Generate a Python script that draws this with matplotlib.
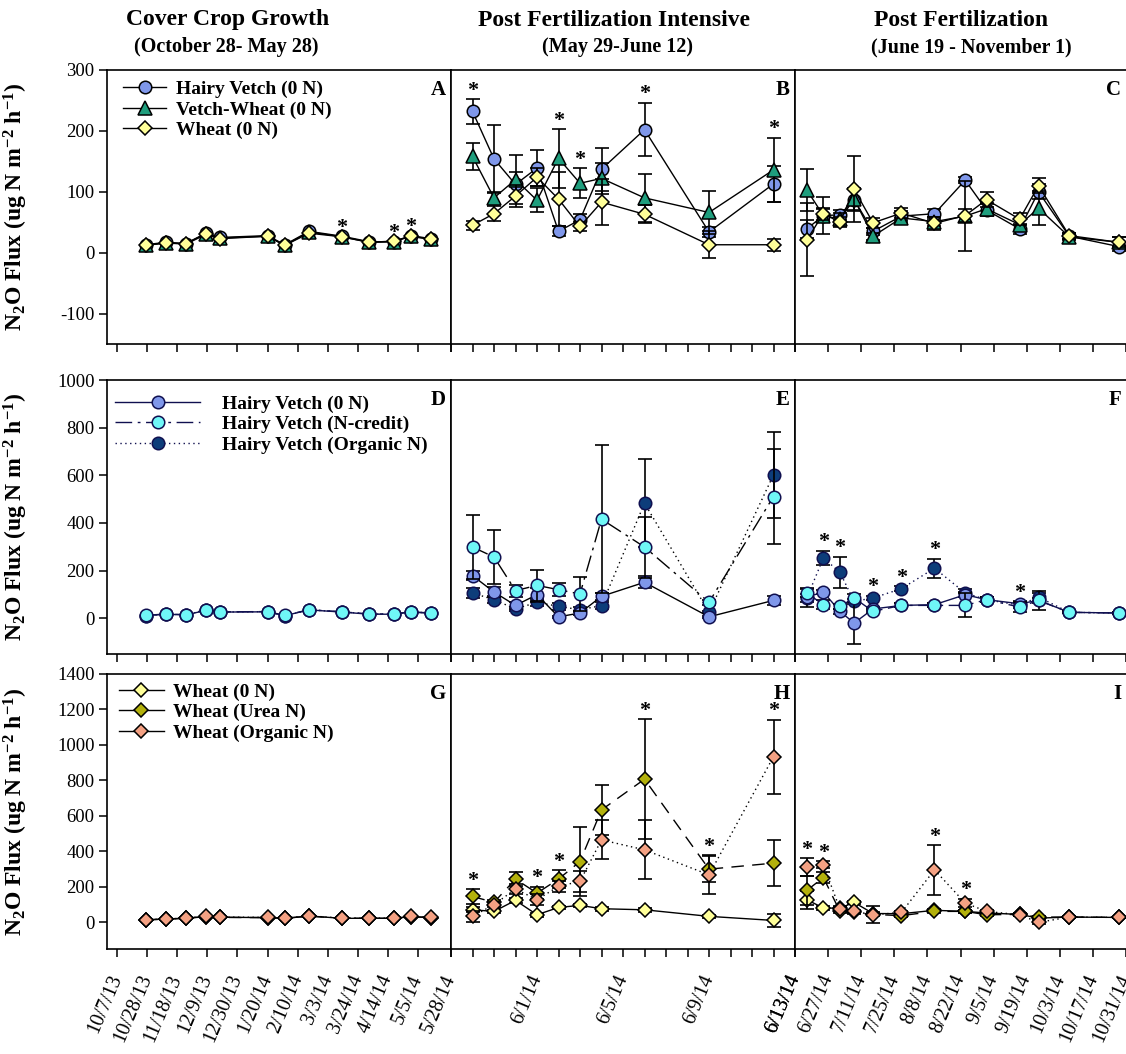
import numpy as np
import pandas as pd
import matplotlib
matplotlib.use('Agg')
import matplotlib.pyplot as plt
import matplotlib.dates as mdates
from matplotlib.lines import Line2D

plt.rcParams['font.family'] = 'Liberation Serif'
plt.rcParams['axes.unicode_minus'] = False
plt.rcParams['mathtext.fontset'] = 'custom'
plt.rcParams['mathtext.rm'] = 'Liberation Serif:bold'
plt.rcParams['mathtext.it'] = 'Liberation Serif:bold'
plt.rcParams['mathtext.bf'] = 'Liberation Serif:bold'

# ---- sampling dates ----
cc_dates = ['2013-10-27', '2013-11-10', '2013-11-24', '2013-12-08', '2013-12-18', '2014-01-20',
            '2014-02-01', '2014-02-18', '2014-03-13', '2014-04-01', '2014-04-18', '2014-04-30', '2014-05-14']
pfi_dates = ['2014-05-29', '2014-05-30', '2014-05-31', '2014-06-01', '2014-06-02', '2014-06-03',
             '2014-06-04', '2014-06-06', '2014-06-09', '2014-06-12']
pf_dates = ['2014-06-18', '2014-06-25', '2014-07-02', '2014-07-08', '2014-07-16', '2014-07-28',
            '2014-08-11', '2014-08-24', '2014-09-02', '2014-09-16', '2014-09-24', '2014-10-07', '2014-10-28']

# ---- tick dates ----
cc_ticks = ['2013-10-07', '2013-10-28', '2013-11-18', '2013-12-09', '2013-12-30', '2014-01-20',
            '2014-02-10', '2014-03-03', '2014-03-24', '2014-04-14', '2014-05-05', '2014-05-28']
pfi_ticks = list(pd.date_range('2014-05-28', '2014-06-13').strftime('%Y-%m-%d'))
pfi_labeled = ['2014-06-01', '2014-06-05', '2014-06-09', '2014-06-13']
pf_ticks = list(pd.date_range('2014-06-13', '2014-10-31', freq='14D').strftime('%Y-%m-%d'))

# ---- row 1: hairy vetch / vetch-wheat / wheat (0 N) ----
hv_a = [13, 17, 15, 32, 25, 28, 13, 35, 27, 18, 18, 28, 23]
vw_a = [12, 16, 15, 31, 24, 27, 12, 34, 26, 17, 18, 27, 22]
wh_a = [12, 16, 14, 30, 23, 27, 12, 32, 26, 17, 19, 27, 22]
stars_a = [8, 10, 11]

hv_b = [232, 154, 112, 139, 35, 54, 137, 202, 34, 113]
hv_b_err = [20, 56, 20, 30, 8, 10, 35, 44, 8, 30]
vw_b = [158, 90, 120, 86, 155, 114, 122, 90, 66, 136]
vw_b_err = [22, 10, 40, 20, 48, 25, 25, 40, 35, 53]
wh_b = [45, 64, 93, 124, 88, 43, 83, 63, 13, 13]
wh_b_err = [7, 12, 18, 15, 45, 8, 38, 15, 22, 10]
stars_b = [0, 4, 5, 7, 9]

hv_c = [39, 61, 62, 87, 35, 60, 64, 119, 70, 39, 100, 27, 10]
hv_c_err = [15, 10, 8, 18, 6, 8, 8, 5, 10, 8, 12, 5, 8]
vw_c = [103, 61, 55, 88, 27, 57, 51, 60, 72, 46, 73, 26, 17]
vw_c_err = [35, 30, 10, 18, 6, 8, 8, 58, 10, 10, 28, 5, 8]
wh_c = [21, 64, 50, 104, 49, 65, 48, 61, 87, 55, 110, 28, 17]
wh_c_err = [60, 10, 8, 54, 8, 8, 10, 10, 12, 10, 12, 5, 8]

# ---- row 2: hairy vetch 0 N / N-credit / organic N ----
hv0_d = [11, 17, 14, 33, 26, 27, 11, 35, 26, 17, 17, 26, 21]
hvn_d = [12, 18, 15, 36, 27, 28, 12, 36, 27, 18, 18, 27, 22]
hvo_d = [11, 17, 15, 34, 26, 28, 11, 35, 27, 18, 18, 27, 22]

hv0_e = [179, 110, 54, 99, 6, 22, 92, 151, 6, 75]
hv0_e_err = [20, 20, 15, 30, 5, 10, 15, 25, 5, 20]
hvn_e = [299, 257, 116, 138, 120, 102, 416, 299, 67, 511]
hvn_e_err = [135, 112, 25, 65, 28, 70, 310, 128, 10, 200]
hvo_e = [106, 78, 39, 67, 50, 36, 53, 483, 25, 602]
hvo_e_err = [20, 15, 10, 15, 15, 10, 15, 186, 5, 180]

hv0_f = [89, 110, 29, -20, 39, 54, 57, 99, 78, 61, 75, 25, 22]
hv0_f_err = [40, 10, 10, 88, 8, 8, 8, 10, 10, 10, 10, 5, 5]
hvn_f = [106, 57, 50, 85, 29, 54, 54, 54, 78, 47, 75, 25, 22]
hvn_f_err = [15, 20, 10, 15, 8, 8, 8, 50, 10, 20, 40, 5, 5]
hvo_f = [85, 253, 193, 71, 85, 124, 210, 106, 78, 55, 89, 25, 22]
hvo_f_err = [15, 30, 65, 10, 10, 10, 40, 15, 10, 10, 15, 5, 5]
stars_f = [1, 2, 4, 5, 6, 9]

# ---- row 3: wheat 0 N / urea N / organic N ----
wh0_g = [15, 19, 24, 33, 29, 27, 23, 36, 23, 23, 23, 33, 27]
whu_g = [14, 18, 23, 32, 28, 27, 23, 35, 23, 23, 23, 32, 27]
who_g = [15, 19, 24, 34, 30, 28, 24, 37, 24, 24, 24, 34, 28]

wh0_h = [71, 62, 124, 43, 84, 96, 77, 71, 34, 11]
wh0_h_err = [15, 10, 15, 10, 10, 10, 10, 10, 10, 35]
whu_h = [146, 113, 244, 165, 244, 343, 634, 807, 300, 334]
whu_h_err = [40, 15, 40, 35, 50, 193, 141, 338, 75, 131]
who_h = [34, 100, 188, 128, 203, 231, 465, 409, 268, 934]
who_h_err = [30, 15, 30, 30, 30, 60, 110, 167, 110, 208]
stars_h = [0, 3, 4, 7, 8, 9]

wh0_i = [128, 81, 80, 113, 50, 49, 68, 62, 53, 45, 24, 30, 28]
wh0_i_err = [50, 10, 10, 10, 10, 8, 8, 8, 8, 8, 5, 5, 5]
whu_i = [180, 253, 62, 56, 45, 38, 62, 62, 43, 45, 30, 30, 28]
whu_i_err = [80, 30, 10, 10, 10, 8, 8, 8, 8, 8, 5, 5, 5]
who_i = [311, 325, 75, 62, 43, 56, 296, 109, 62, 43, 0, 30, 28]
who_i_err = [50, 20, 10, 10, 47, 8, 140, 25, 10, 8, 8, 5, 5]
stars_i = [0, 1, 6, 7]

col_titles = ['Cover Crop Growth', 'Post Fertilization Intensive', 'Post Fertilization']
col_subtitles = ['(October 28- May 28)', '(May 29-June 12)', '(June 19 - November 1)']
ylims = [(-150, 300), (-150, 1000), (-150, 1400)]
yticks = [np.arange(-100, 301, 100), np.arange(0, 1001, 200), np.arange(0, 1401, 200)]

# ---- styles ----
SOLID = None
DASHDOT = (12, 4, 2, 4)
DOTTED = (1, 2.5)
LONGDASH = (9, 6)
NAVY = '#101050'
st_hv = dict(marker='o', ms=9, mfc='#7f97ea', mec='black')
st_vw = dict(marker='^', ms=9.5, mfc='#1f9e7d', mec='black')
st_wh = dict(marker='D', ms=7.2, mfc='#ffff99', mec='black')
st_hv0 = dict(marker='o', ms=9, mfc='#7f97ea', mec=NAVY)
st_hvn = dict(marker='o', ms=9, mfc='#6ff7f7', mec=NAVY)
st_hvo = dict(marker='o', ms=9, mfc='#0d3d7a', mec=NAVY)
st_whu = dict(marker='D', ms=7.2, mfc='#b3b10c', mec='black')
st_who = dict(marker='D', ms=7.2, mfc='#f4a183', mec='black')

W, H = 1126, 1054
cols = [(107, 451), (451, 795), (795, 1126)]
rows = [(70, 344), (380, 654), (674, 949)]


def to_num(dates):
    return mdates.date2num(pd.to_datetime(dates).to_pydatetime())


def fmt(d):
    d = pd.Timestamp(d)
    return f"{d.month}/{d.day}/{d.year % 100}"


def draw(ax, x, vals, errs, style, dashes, z, color='black'):
    if errs is not None:
        ax.errorbar(x, vals, yerr=errs, fmt='none', ecolor='black', elinewidth=1.2,
                    capsize=5, capthick=1.2, zorder=z)
    line, = ax.plot(x, vals, color=color, lw=1.0, mew=1.1, zorder=z + 0.5, **style)
    if dashes is not None:
        line.set_dashes(dashes)
    return line


def stars(ax, x, idx, series):
    for i in idx:
        top = max(v[i] + (e[i] if e is not None else 0) for v, e in series)
        ax.annotate('*', (x[i], top), xytext=(0, 2.5), textcoords='offset points',
                    ha='center', va='baseline', fontsize=16, fontweight='bold')


fig = plt.figure(figsize=(W / 100, H / 100), dpi=100)
axes = [[None] * 3 for _ in range(3)]
for r, (t, b) in enumerate(rows):
    for c, (l, rr) in enumerate(cols):
        ax = fig.add_axes([l / W, 1 - b / H, (rr - l) / W, (b - t) / H])
        ax.set_ylim(*ylims[r])
        for s in ax.spines.values():
            s.set_linewidth(1.2)
        ax.tick_params(axis='x', direction='out', length=6, width=1.1, labelsize=14.5, pad=13)
        if c == 0:
            ax.set_yticks(yticks[r])
            ax.tick_params(axis='y', direction='out', length=5.5, width=1.1, labelsize=13.5)
            ax.set_ylabel('N$_2$O Flux (ug N m$^{-2}$ h$^{-1}$)', fontsize=17, fontweight='bold')
            ax.yaxis.set_label_coords(-0.225, 0.5)
        else:
            ax.tick_params(axis='y', left=False, labelleft=False)
        if c == 2:
            ax.spines['right'].set_visible(False)
        axes[r][c] = ax

x1, x2, x3 = to_num(cc_dates), to_num(pfi_dates), to_num(pf_dates)
lims = [to_num(['2013-09-30', '2014-05-28']), to_num(['2014-05-28', '2014-06-13']),
        to_num(['2014-06-13', '2014-10-31'])]
tick_sets = [cc_ticks, pfi_ticks, pf_ticks]
for r in range(3):
    for c in range(3):
        ax = axes[r][c]
        ax.set_xlim(*lims[c])
        ax.set_xticks(to_num(tick_sets[c]))
        if c == 1:
            labels = [fmt(d) if d in pfi_labeled else '' for d in pfi_ticks]
        else:
            labels = [fmt(d) for d in tick_sets[c]]
        ax.set_xticklabels(labels)
        if r < 2:
            ax.tick_params(axis='x', labelbottom=False)
        else:
            plt.setp(ax.get_xticklabels(), rotation=67, ha='right', va='center',
                     rotation_mode='anchor')

# ---- row 1 ----
ax = axes[0][0]
h1 = draw(ax, x1, hv_a, None, st_hv, SOLID, 3)
h2 = draw(ax, x1, vw_a, None, st_vw, SOLID, 4)
h3 = draw(ax, x1, wh_a, None, st_wh, SOLID, 5)
stars(ax, x1, stars_a, [(hv_a, None), (vw_a, None), (wh_a, None)])
ax.legend([h1, h2, h3], ['Hairy Vetch (0 N)', 'Vetch-Wheat (0 N)', 'Wheat (0 N)'],
          loc='upper left', bbox_to_anchor=(0.047, 0.962), frameon=False,
          prop={'weight': 'bold', 'size': 14}, handlelength=2.2, handletextpad=0.5,
          labelspacing=0.15, borderpad=0, borderaxespad=0, numpoints=1)

ax = axes[0][1]
draw(ax, x2, hv_b, hv_b_err, st_hv, SOLID, 3)
draw(ax, x2, vw_b, vw_b_err, st_vw, SOLID, 4)
draw(ax, x2, wh_b, wh_b_err, st_wh, SOLID, 5)
stars(ax, x2, stars_b, [(hv_b, hv_b_err), (vw_b, vw_b_err), (wh_b, wh_b_err)])

ax = axes[0][2]
draw(ax, x3, hv_c, hv_c_err, st_hv, SOLID, 3)
draw(ax, x3, vw_c, vw_c_err, st_vw, SOLID, 4)
draw(ax, x3, wh_c, wh_c_err, st_wh, SOLID, 5)

# ---- row 2 ----
ax = axes[1][0]
g3 = draw(ax, x1, hvo_d, None, st_hvo, DOTTED, 3, NAVY)
g1 = draw(ax, x1, hv0_d, None, st_hv0, SOLID, 4, NAVY)
g2 = draw(ax, x1, hvn_d, None, st_hvn, DASHDOT, 5, NAVY)
ax.legend([g1, g2, g3], ['Hairy Vetch (0 N)', 'Hairy Vetch (N-credit)', 'Hairy Vetch (Organic N)'],
          loc='upper left', bbox_to_anchor=(0.023, 0.945), frameon=False,
          prop={'weight': 'bold', 'size': 14}, handlelength=4.4, handletextpad=1.1,
          labelspacing=0.15, borderpad=0, borderaxespad=0, numpoints=1)

ax = axes[1][1]
draw(ax, x2, hvo_e, hvo_e_err, st_hvo, DOTTED, 3)
draw(ax, x2, hv0_e, hv0_e_err, st_hv0, SOLID, 4)
draw(ax, x2, hvn_e, hvn_e_err, st_hvn, DASHDOT, 5)

ax = axes[1][2]
draw(ax, x3, hvo_f, hvo_f_err, st_hvo, DOTTED, 3, NAVY)
draw(ax, x3, hv0_f, hv0_f_err, st_hv0, SOLID, 4, NAVY)
draw(ax, x3, hvn_f, hvn_f_err, st_hvn, DASHDOT, 5, NAVY)
stars(ax, x3, stars_f, [(hv0_f, hv0_f_err), (hvn_f, hvn_f_err), (hvo_f, hvo_f_err)])

# ---- row 3 ----
ax = axes[2][0]
draw(ax, x1, wh0_g, None, st_wh, SOLID, 3)
draw(ax, x1, whu_g, None, st_whu, LONGDASH, 4)
draw(ax, x1, who_g, None, st_who, DOTTED, 5)
proxies = [Line2D([], [], color='black', lw=1.0, mew=1.1, **st) for st in (st_wh, st_whu, st_who)]
ax.legend(proxies, ['Wheat (0 N)', 'Wheat (Urea N)', 'Wheat (Organic N)'],
          loc='upper left', bbox_to_anchor=(0.035, 0.967), frameon=False,
          prop={'weight': 'bold', 'size': 14}, handlelength=2.3, handletextpad=0.5,
          labelspacing=0.15, borderpad=0, borderaxespad=0, numpoints=1)

ax = axes[2][1]
draw(ax, x2, wh0_h, wh0_h_err, st_wh, SOLID, 3)
draw(ax, x2, whu_h, whu_h_err, st_whu, LONGDASH, 4)
draw(ax, x2, who_h, who_h_err, st_who, DOTTED, 5)
stars(ax, x2, stars_h, [(wh0_h, wh0_h_err), (whu_h, whu_h_err), (who_h, who_h_err)])

ax = axes[2][2]
draw(ax, x3, wh0_i, wh0_i_err, st_wh, SOLID, 3)
draw(ax, x3, whu_i, whu_i_err, st_whu, LONGDASH, 4)
draw(ax, x3, who_i, who_i_err, st_who, DOTTED, 5)
stars(ax, x3, stars_i, [(wh0_i, wh0_i_err), (whu_i, whu_i_err), (who_i, who_i_err)])

# ---- panel letters ----
for r in range(3):
    for c in range(3):
        axes[r][c].text(0.985, 0.965, 'ABCDEFGHI'[r * 3 + c], transform=axes[r][c].transAxes,
                        ha='right', va='top', fontsize=15, fontweight='bold')

# ---- column titles ----
title_x = [228, 614, 961]
sub_x = [226, 617, 971]
for i in range(3):
    fig.text(title_x[i] / W, 1 - 20 / H, col_titles[i], ha='center', va='center',
             fontsize=17, fontweight='bold')
    fig.text(sub_x[i] / W, 1 - 47 / H, col_subtitles[i], ha='center', va='center',
             fontsize=14.5, fontweight='bold')

fig.savefig('out.png', dpi=100)
